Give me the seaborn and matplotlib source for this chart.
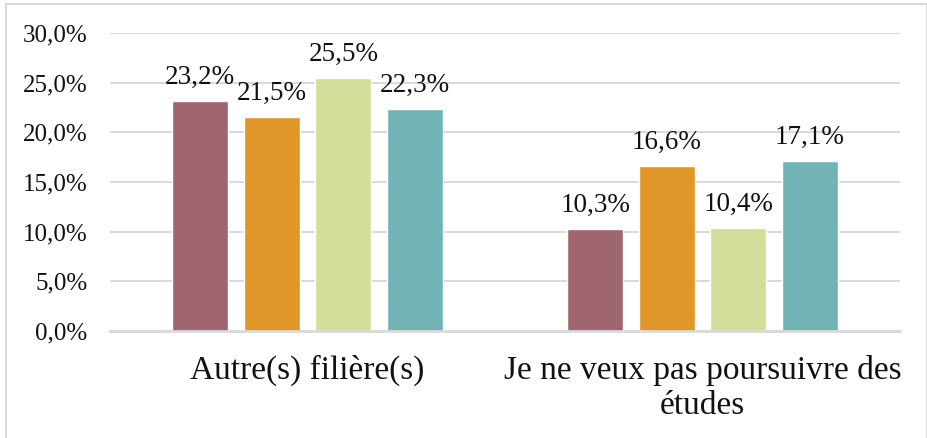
import matplotlib.pyplot as plt
import matplotlib.patches as mpatches
import seaborn as sns
import pandas as pd

# values (percent)
categories = ['Autre(s) filière(s)', 'Je ne veux pas poursuivre des\nétudes']
series = ['Série 1', 'Série 2', 'Série 3', 'Série 4']
values_autre = [23.2, 21.5, 25.5, 22.3]
values_etudes = [10.3, 16.6, 10.4, 17.1]
colors = ['#A0666F', '#E09628', '#D2DE9A', '#72B4B6']

rows = []
for s, v in zip(series, values_autre):
    rows.append({'cat': categories[0], 'serie': s, 'val': v})
for s, v in zip(series, values_etudes):
    rows.append({'cat': categories[1], 'serie': s, 'val': v})
df = pd.DataFrame(rows)

sns.set_style('white')
plt.rcParams['font.family'] = ['Liberation Serif', 'DejaVu Serif']

fig = plt.figure(figsize=(9.28, 4.38), dpi=100)
ax = fig.add_axes([0.1185, 0.2443, 0.8515, 0.6804])

sns.barplot(data=df, x='cat', y='val', hue='serie', hue_order=series,
            order=categories, palette=colors, width=0.724, gap=0.215,
            legend=False, saturation=1, ax=ax)

for cont in ax.containers:
    labels = ['{:.1f}%'.format(b.get_height()).replace('.', ',') for b in cont]
    ax.bar_label(cont, labels=labels, padding=8, fontsize=19.5, color='#111111')

ticks = [0, 5, 10, 15, 20, 25, 30]
ax.set_ylim(0, 30)
ax.set_xlim(-0.5, 1.5)
ax.set_yticks(ticks)
ax.set_yticklabels(['{:.1f}%'.format(t).replace('.', ',') for t in ticks],
                   fontsize=18, color='#111111')
for lab in ax.get_xticklabels():
    lab.set_fontsize(24)
    lab.set_color('#111111')
    lab.set_linespacing(1.2)
ax.tick_params(axis='both', length=0)
ax.tick_params(axis='x', pad=17)
ax.tick_params(axis='y', pad=16)
ax.set_xlabel('')
ax.set_ylabel('')

ax.yaxis.grid(True, color='#D9D9D9', linewidth=1.4)
ax.set_axisbelow(True)
for side in ['top', 'right', 'left']:
    ax.spines[side].set_visible(False)
ax.spines['bottom'].set_color('#D9D9D9')
ax.spines['bottom'].set_linewidth(2)

# light frame around the chart
frame = mpatches.Rectangle((6 / 928, -0.02), 921 / 928, 1 - 4 / 438 + 0.02,
                           transform=fig.transFigure, fill=False,
                           edgecolor='#D9D9D9', linewidth=1.5)
fig.patches.append(frame)

fig.savefig('out.png', dpi=100)
